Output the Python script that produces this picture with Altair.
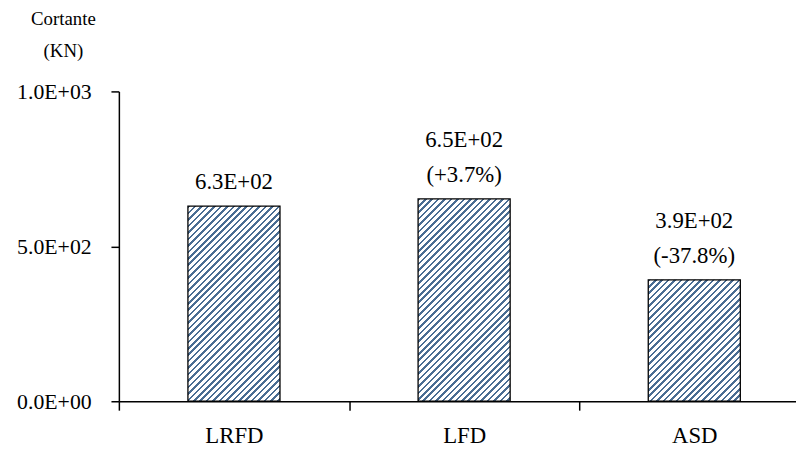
import math
import altair as alt
import pandas as pd

# ---- data ----
categories = ["LRFD", "LFD", "ASD"]
values = [630, 653, 392]          # Cortante (KN)
y_ticks = [0, 500, 1000]
y_tick_labels = ["0.0E+00", "5.0E+02", "1.0E+03"]

# ---- style ----
FONT = "Liberation Serif"
FS = 22
FS_TXT = 23
W, H = 684, 313
STEP_PX = 232.5
BAR_FRAC = 0.4
STRIPE = "#4a6d93"

base = values[0]
val_txt = [f"{v:.1E}" for v in values]
pct_txt = [""] + [f"({(v - base) / base * 100:+.1f}%)" for v in values[1:]]
last_line = [p if p else t for t, p in zip(val_txt, pct_txt)]
first_line = [t if p else "" for t, p in zip(val_txt, pct_txt)]

df = pd.DataFrame({
    "cat": categories,
    "idx": list(range(len(categories))),
    "val": values,
    "first": first_line,
    "last": last_line,
})

x_max = -0.5 + W / STEP_PX
xscale = alt.Scale(domain=[-0.5, x_max], nice=False, zero=False)
yscale = alt.Scale(domain=[0, 1000], nice=False)


def hatch(w, h, period=6.5, frac=0.4):
    k = (w + h) / (w * w + h * h)
    n = (w + h) / period
    stops = []
    i = 0
    while i / n < 1:
        o0 = i / n
        o1 = min((i + frac) / n, 1)
        o2 = min((i + 1) / n, 1)
        stops += [
            alt.GradientStop(offset=o0, color=STRIPE),
            alt.GradientStop(offset=o1, color=STRIPE),
            alt.GradientStop(offset=o1, color="white"),
            alt.GradientStop(offset=o2, color="white"),
        ]
        i += 1
    return alt.LinearGradient(gradient="linear", stops=stops,
                              x1=0, y1=0, x2=k * w, y2=k * h)


base_chart = alt.Chart(df)

tick_axis = alt.Axis(
    values=[-0.5, 0.5, 1.5], labels=False, tickSize=9, orient="bottom",
    tickColor="black", domainColor="black", tickWidth=1.5,
    domainWidth=1.5, title=None, grid=False)
y_axis = alt.Axis(
    values=y_ticks, orient="left",
    labelExpr=f"{y_tick_labels}[indexof({y_ticks}, datum.value)]",
    tickSize=8, tickColor="black", tickWidth=1.5,
    domainColor="black", domainWidth=1.5, labelPadding=20,
    labelFont=FONT, labelFontSize=FS, labelColor="black",
    title=None, grid=False)

bar_w_px = BAR_FRAC * STEP_PX
bars = []
for i, v in enumerate(values):
    h = v / 1000 * H
    b = base_chart.transform_filter(
        alt.datum.idx == i
    ).transform_calculate(
        x0=f"datum.idx - {BAR_FRAC / 2}", x1=f"datum.idx + {BAR_FRAC / 2}"
    ).mark_bar(
        fill=hatch(bar_w_px, h), stroke="black", strokeWidth=1.3
    ).encode(
        x=alt.X("x0:Q", scale=xscale, axis=tick_axis if i == 0 else None),
        x2="x1:Q",
        y=alt.Y("val:Q", scale=yscale, axis=y_axis if i == 0 else None),
        y2=alt.datum(0),
    )
    bars.append(b)

xlabels = base_chart.mark_text(opacity=0).encode(
    x=alt.X("idx:Q", scale=xscale, axis=alt.Axis(
        values=list(range(len(categories))), orient="bottom",
        labelExpr=f"{categories}[datum.value]",
        tickSize=0, domain=False, labelPadding=24,
        labelFont=FONT, labelFontSize=FS_TXT, labelColor="black",
        title=None, grid=False)),
    y=alt.Y("val:Q", scale=yscale, axis=None),
    text="cat:N",
)


def text_layer(field, dy):
    return base_chart.mark_text(
        font=FONT, fontSize=FS_TXT, color="black", baseline="alphabetic",
        dy=dy
    ).encode(
        x=alt.X("idx:Q", scale=xscale, axis=None),
        y=alt.Y("val:Q", scale=yscale, axis=None),
        text=f"{field}:N",
    )


texts_last = text_layer("last", -17)
texts_first = text_layer("first", -52)

chart = alt.layer(*bars, xlabels, texts_last, texts_first).resolve_axis(
    x="independent", y="independent"
).properties(
    width=W, height=H,
    autosize=alt.AutoSizeParams(type="none"),
    padding={"left": 112, "top": 82, "right": 0, "bottom": 50},
    title=alt.TitleParams(
        ["Cortante", "(KN)"], anchor="start", align="center", dx=-56,
        frame="group", baseline="bottom", offset=1, font=FONT,
        fontSize=19, fontWeight="normal", color="black", lineHeight=32),
).configure_view(stroke=None)

chart.save("out.html", embed_options={"renderer": "svg", "actions": False})
